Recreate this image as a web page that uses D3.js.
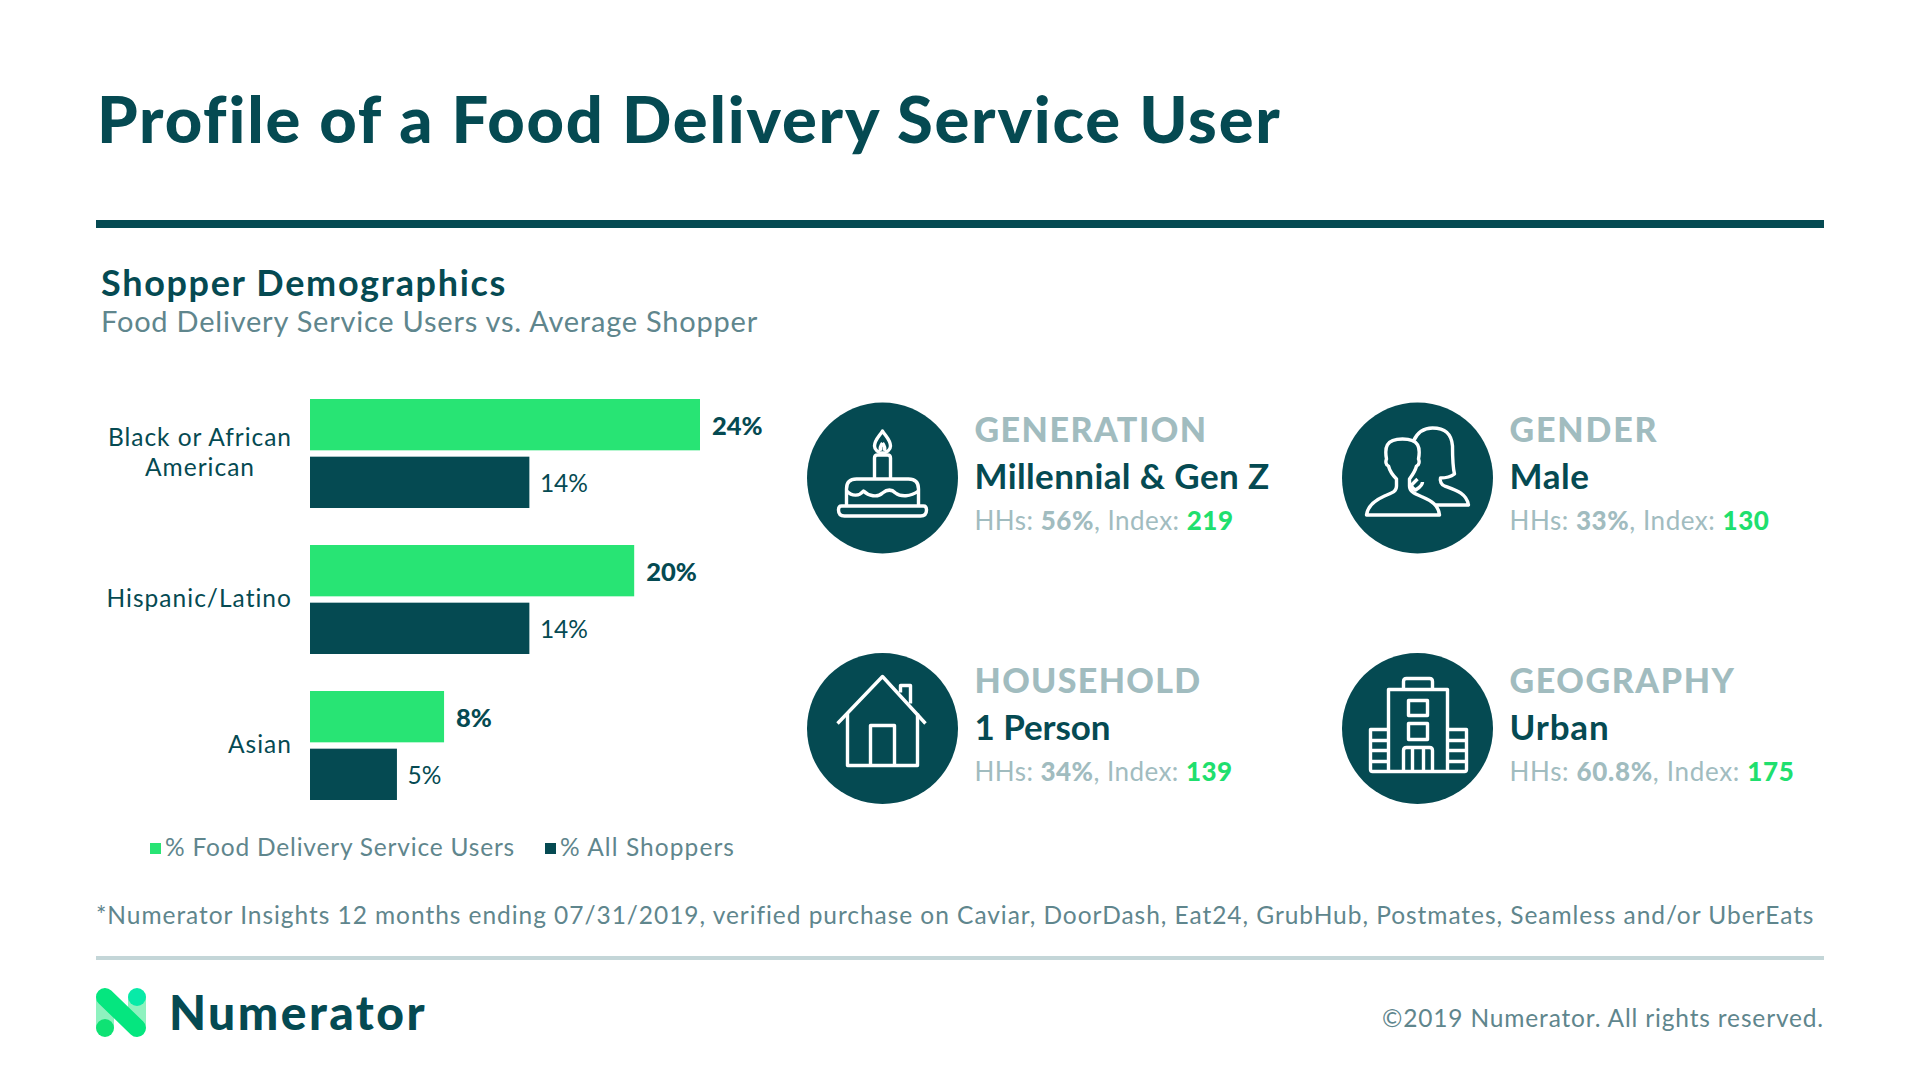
<!DOCTYPE html>
<html>
<head>
<meta charset="utf-8">
<title>Profile of a Food Delivery Service User</title>
<script src="https://d3js.org/d3.v7.min.js"></script>
<style>
  html, body { margin: 0; padding: 0; background: #fff; }
  svg { display: block; }
  text { font-family: Lato, "Open Sans", sans-serif; }
</style>
</head>
<body>
<div id="chart"></div>
<script>
// chart data
var categories = ["Black or African American", "Hispanic/Latino", "Asian"];
var categoryLines = [["Black or African", "American"], ["Hispanic/Latino"], ["Asian"]];
var seriesNames = ["% Food Delivery Service Users", "% All Shoppers"];
var foodUsers = [24, 19.95, 8.25];
var allShoppers = [13.5, 13.5, 5.35];

// the four profile cards
var cardTitles = ["GENERATION", "GENDER", "HOUSEHOLD", "GEOGRAPHY"];
var cardValues = ["Millennial & Gen Z", "Male", "1 Person", "Urban"];
var cardHHs = ["56%", "33%", "34%", "60.8%"];
var cardIndex = ["219", "130", "139", "175"];

var DARK = "#054a52", GREEN = "#28e474", MUTED = "#5f868d", PALE = "#a1bcbf";

var svg = d3.select("#chart").append("svg")
    .attr("width", 1920)
    .attr("height", 1080);

svg.append("rect").attr("width", 1920).attr("height", 1080).attr("fill", "#fff");

// squeeze or stretch a text to the width it has in the reference
function fit(sel, width) {
  sel.each(function () {
    var n = this.textContent.length;
    var len = this.getComputedTextLength();
    d3.select(this).style("letter-spacing", ((width - len) / n) + "px");
  });
  return sel;
}

function label(x, y, str, size, weight, color, width) {
  var t = svg.append("text")
      .attr("x", x)
      .attr("y", y)
      .attr("font-size", size)
      .attr("font-weight", weight)
      .attr("fill", color)
      .text(str);
  if (width) fit(t, width);
  return t;
}

// header
label(97, 143, "Profile of a Food Delivery Service User", 65, 900, DARK, 1184);
svg.append("rect").attr("x", 96).attr("y", 220).attr("width", 1728).attr("height", 8).attr("fill", DARK);
label(101, 296, "Shopper Demographics", 36, 700, DARK, 406);
label(101, 332, "Food Delivery Service Users vs. Average Shopper", 29, 400, MUTED, 657);

// bars
var x = d3.scaleLinear().domain([0, 24]).range([310, 700]);
var y = d3.scaleBand().domain(categories).range([399, 800]).paddingInner(0.2534);
var inner = d3.scaleBand().domain(seriesNames).range([0, y.bandwidth()]).paddingInner(0.11);
var color = d3.scaleOrdinal().domain(seriesNames).range([GREEN, DARK]);

var rows = categories.map(function (c, i) {
  return { category: c, values: [foodUsers[i], allShoppers[i]] };
});

var group = svg.selectAll(".category")
    .data(rows)
  .enter().append("g")
    .attr("class", "category")
    .attr("transform", function (d) { return "translate(0," + y(d.category) + ")"; });

var bar = group.selectAll(".bar")
    .data(function (d) {
      return d.values.map(function (v, i) { return { name: seriesNames[i], value: v, lead: i == 0 }; });
    })
  .enter().append("g")
    .attr("class", "bar");

bar.append("rect")
    .attr("x", x(0))
    .attr("y", function (d) { return inner(d.name); })
    .attr("width", function (d) { return x(d.value) - x(0); })
    .attr("height", inner.bandwidth())
    .attr("fill", function (d) { return color(d.name); });

bar.append("text")
    .attr("x", function (d) { return x(d.value) + (d.lead ? 12 : 10.5); })
    .attr("y", function (d) { return inner(d.name) + inner.bandwidth() / 2 + 10; })
    .attr("font-size", function (d) { return d.lead ? 25.5 : 24.5; })
    .attr("font-weight", function (d) { return d.lead ? 900 : 400; })
    .attr("fill", DARK)
    .text(function (d) { return d3.format(".0f")(d.value) + "%"; });

// category labels, the long one wrapped on two centred lines
var yAxis = svg.append("g")
    .attr("transform", "translate(310,0)")
    .call(d3.axisLeft(y).tickSize(0).tickPadding(18));
yAxis.select(".domain").remove();

var labelWidths = [[184, 110], [186], [64]];
yAxis.selectAll(".tick text").each(function (d, i) {
  var t = d3.select(this).attr("dy", null).attr("font-size", 24.5).attr("fill", DARK).attr("y", null).text(null)
      .attr("font-family", "Lato");
  var lines = categoryLines[i];
  lines.forEach(function (line, j) {
    var s = t.append("tspan")
        .attr("x", lines.length > 1 ? -110 : -18)
        .attr("y", lines.length > 1 ? -8 + j * 30 : 7.5)
        .attr("text-anchor", lines.length > 1 ? "middle" : "end")
        .text(line);
    s.style("letter-spacing", ((labelWidths[i][j] - s.node().getComputedTextLength()) / line.length) + "px");
  });
});

// legend
var legendX = [150, 545], legendW = [350, 175];
seriesNames.forEach(function (name, i) {
  svg.append("rect")
      .attr("x", legendX[i])
      .attr("y", 843)
      .attr("width", 11)
      .attr("height", 11)
      .attr("fill", color(name));
  label(legendX[i] + 15, 856, name, 24.5, 400, MUTED, legendW[i]);
});

// profile cards
var cardX = [882.5, 1417.5], cardY = [478, 728.5];
var titleW = [233, 149, 227, 226];
var valueW = [295, 80, 136, 100];
var statW = [259, 260, 258, 285];

var icons = [
  // cake
  function (g) {
    g.append("path").attr("d", "M0 -47 C-3 -42 -8 -38 -8 -32 C-8 -28 -4 -25 0 -25 C4 -25 8 -28 8 -32 C8 -38 3 -42 0 -47 Z M0 -35 C-1.5 -33 -3 -31 -2 -27 M0 -35 C1.5 -33 3 -31 2 -27");
    g.append("path").attr("d", "M-8 1 V-20 Q-8 -23 -5 -23 H5 Q8 -23 8 -20 V1");
    g.append("path").attr("d", "M-36 28 V11 Q-36 1 -26 1 H26 Q36 1 36 11 V28");
    g.append("path").attr("d", "M-36 13 C-30 19 -23 18 -19 13 C-14 18 -5 20 0 15 C5 11 9 11 13 15 C18 19 28 19 36 13");
    g.append("path").attr("d", "M-41 28 H41 Q44 28 44 32 Q44 38 38 38 H-38 Q-44 38 -44 32 Q-44 28 -41 28 Z");
  },
  // man and woman
  function (g) {
    g.append("path").attr("d", "M-51 37 C-50 28 -42 22 -33 18 C-26 15 -21 14 -21 8 L-21 1 C-25 -3 -28 -8 -29 -12 C-32 -13 -32 -17 -31 -19 C-33 -30 -32 -39 -15 -39 C2 -39 3 -30 1 -19 C2 -17 2 -13 -1 -12 C-2 -8 -5 -3 -8 1 L-8 8 C-8 14 -2 16 5 19 C14 23 21 27 22 37 Z");
    g.append("path").attr("d", "M-4 -37 C0 -46 6 -50 15 -50 C28 -50 34 -44 35 -32 C35 -22 35 -12 37 -4 C33 -1 28 0 23 0 C22 3 24 7 27 8 C38 12 49 15 51 27 H18");
    g.append("path").attr("d", "M0 1 L-6 7 C-6 9 -4 11 -2 12 C1 10 5 8 5 4");
  },
  // house
  function (g) {
    g.append("path").attr("d", "M-45 -5 L0 -52 L43 -5");
    g.append("path").attr("d", "M-35 -15 V37 H35 V-15");
    g.append("path").attr("d", "M-12 37 V-3 H12 V37");
    g.append("path").attr("d", "M18 -36 V-43 H28 V-25");
  },
  // building
  function (g) {
    g.append("path").attr("d", "M-29 43 V-39 H30 V43");
    g.append("path").attr("d", "M-14 -39 V-47 Q-14 -50 -11 -50 H12 Q15 -50 15 -47 V-39");
    g.append("path").attr("d", "M-9 -28 H10 V-13 H-9 Z M-9 -5 H10 V11 H-9 Z");
    g.append("path").attr("d", "M-14 43 V22 Q-14 19 -11 19 H12 Q15 19 15 22 V43 M-5 19 V43 M6 19 V43");
    g.append("path").attr("d", "M-29 1 H-47 V41 Q-47 43 -45 43 H47 Q49 43 49 41 V1 H30");
    g.append("path").attr("d", "M-47 12 H-29 M-47 22 H-29 M-47 33 H-29 M30 12 H49 M30 22 H49 M30 33 H49");
  }
];

cardTitles.forEach(function (title, i) {
  var cx = cardX[i % 2], cy = cardY[Math.floor(i / 2)];
  svg.append("circle").attr("cx", cx).attr("cy", cy).attr("r", 75.5).attr("fill", DARK);

  var icon = svg.append("g")
      .attr("transform", "translate(" + cx + "," + cy + ")")
      .attr("fill", "none")
      .attr("stroke", "#fff")
      .attr("stroke-width", 3.4)
      .attr("stroke-linejoin", "round");
  icons[i](icon);

  var tx = cx + 92, top = cy - 36;
  label(tx, top, title, 34, 900, PALE, titleW[i]);
  label(tx, top + 47, cardValues[i], 35, 700, DARK, valueW[i]);

  var stat = label(tx, top + 88, "", 26, 400, PALE);
  stat.append("tspan").text("HHs: ");
  stat.append("tspan").attr("font-weight", 900).text(cardHHs[i]);
  stat.append("tspan").text(", Index: ");
  stat.append("tspan").attr("font-weight", 900).attr("fill", "#1fdf6e").text(cardIndex[i]);
  fit(stat, statW[i]);
});

// footnote and footer
label(96, 924, "*Numerator Insights 12 months ending 07/31/2019, verified purchase on Caviar, DoorDash, Eat24, GrubHub, Postmates, Seamless and/or UberEats", 24.5, 400, MUTED, 1718);
svg.append("rect").attr("x", 96).attr("y", 956).attr("width", 1728).attr("height", 4).attr("fill", "#c4d6d8");

// logo
var logo = svg.append("g").attr("transform", "translate(96,988)");
logo.append("rect").attr("x", 0).attr("y", 9).attr("width", 18).attr("height", 31).attr("fill", "#8ef2bf");
logo.append("rect").attr("x", 32).attr("y", 9).attr("width", 18).attr("height", 31).attr("fill", "#8ef2bf");
logo.append("line").attr("x1", 9).attr("y1", 9).attr("x2", 41).attr("y2", 40)
    .attr("stroke", "#05e67f").attr("stroke-width", 18).attr("stroke-linecap", "round");
logo.append("circle").attr("cx", 9).attr("cy", 40).attr("r", 9).attr("fill", "#0fe274");
logo.append("circle").attr("cx", 41).attr("cy", 9).attr("r", 9).attr("fill", "#08eaa8");

label(169, 1030, "Numerator", 48, 900, DARK, 258);
label(1382, 1027, "\u00a92019 Numerator. All rights reserved.", 24.5, 400, MUTED, 442);
</script>
</body>
</html>
